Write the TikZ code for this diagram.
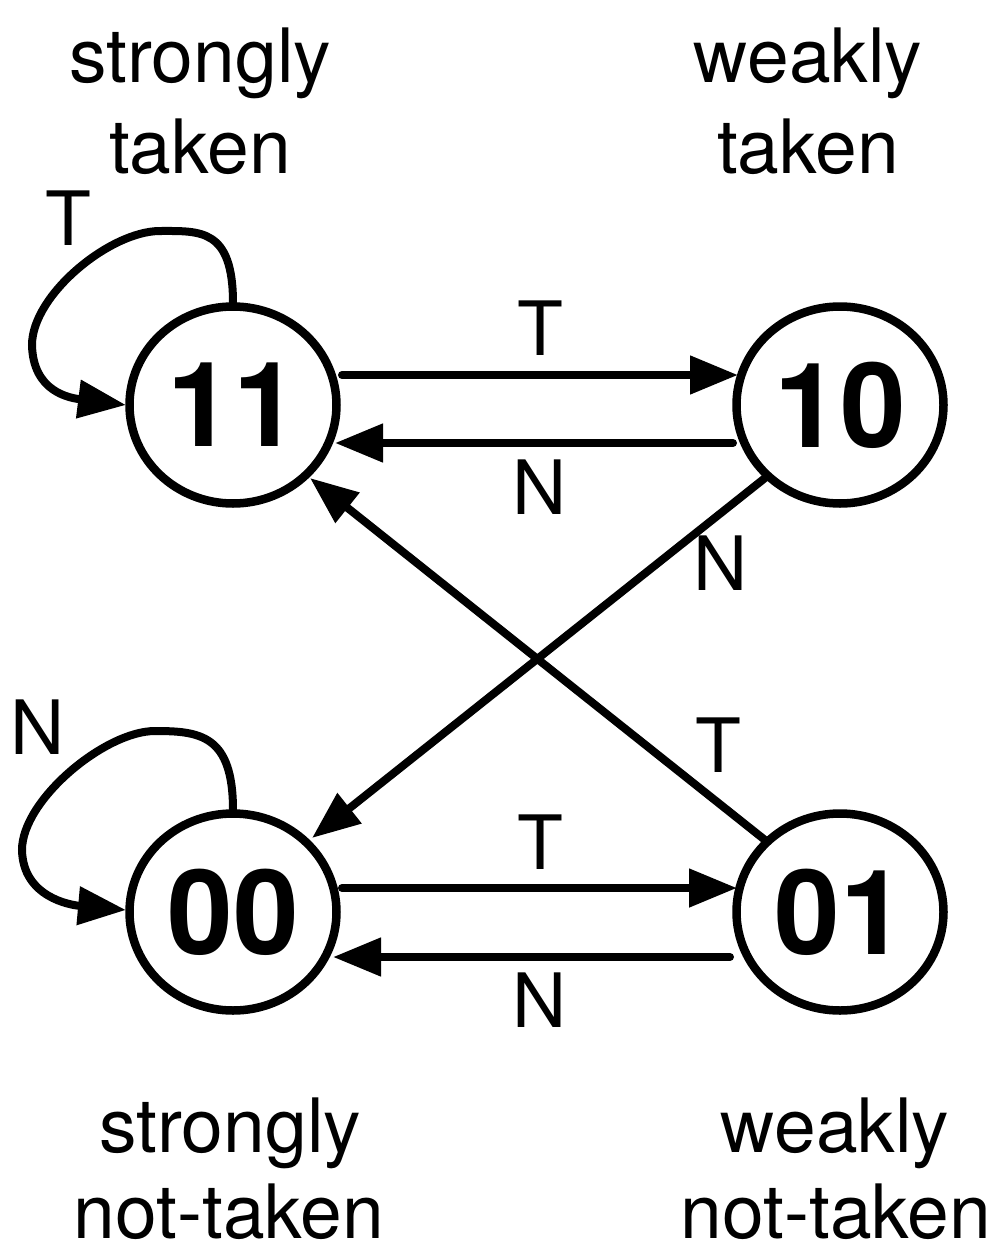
\documentclass[tikz,border=0pt]{standalone}
\usepackage{fontspec}
\setmainfont{TeX Gyre Heros}
\usetikzlibrary{arrows.meta,shapes.geometric}
\begin{document}
\begin{tikzpicture}[x=1pt,y=-1pt,
  state/.style={ellipse, draw, line width=8.5pt, minimum width=207pt, minimum height=197pt, inner sep=0pt,
    font=\fontsize{118}{118}\selectfont\bfseries},
  lbl/.style={font=\fontsize{75}{75}\selectfont, inner sep=0pt, anchor=base},
  tr/.style={font=\fontsize{75}{75}\selectfont, inner sep=0pt},
  arr/.style={-{Triangle[length=48pt,width=37pt]}, line width=8pt, line cap=round}]
\useasboundingbox (0,0) rectangle (1000,1258);

\node[state] (s11) at (233,405) {11};
\node[state] (s10) at (840,405) {10};
\node[state] (s00) at (233,912) {00};
\node[state] (s01) at (840,912) {01};

% headings
\node[lbl] (h1a) at (200,82) {strongly};
\node[lbl] (h1b) at (200,173) {taken};
\node[lbl] (h2a) at (808,82) {weakly};
\node[lbl] (h2b) at (808,173) {taken};
\node[lbl] (h3a) at (230,1152) {strongly};
\node[lbl] (h3b) at (229,1238) {not-taken};
\node[lbl] (h4a) at (835,1152) {weakly};
\node[lbl] (h4b) at (836,1238) {not-taken};

% horizontal transitions
\draw[arr] ([shift={(109,-30)}]s11.center) -- ([shift={(-102,-30)}]s10.center);
\draw[arr] ([shift={(-107,38)}]s10.center) -- ([shift={(102,38)}]s11.center);
\draw[arr] ([shift={(109,-24)}]s00.center) -- ([shift={(-103,-24)}]s01.center);
\draw[arr] ([shift={(-110,45)}]s01.center) -- ([shift={(100,45)}]s00.center);

% diagonals
\draw[arr] ([shift={(-75,73)}]s10.center) -- ([shift={(79,-74)}]s00.center);
\draw[arr] ([shift={(-75,-72)}]s01.center) -- ([shift={(77,73)}]s11.center);

% self loops
\draw[arr] ([shift={(0,-102)}]s11.center) .. controls (233,228) and (200,231) .. (160,231)
   .. controls (110,231) and (32,295) .. (32,345)
   .. controls (33,392) and (70,398) .. ([shift={(-107,0)}]s11.center);
\draw[arr] ([shift={(0,-102)}]s00.center) .. controls (233,735) and (200,731) .. (155,731)
   .. controls (105,731) and (22,800) .. (22,850)
   .. controls (23,897) and (70,905) .. ([shift={(-107,-2)}]s00.center);

% labels
\node[tr] (t1) at (540,328) {T};
\node[tr] (n1) at (540,487) {N};
\node[tr] (t2) at (540,842) {T};
\node[tr] (n2) at (540,1000) {N};
\node[tr] (n3) at (721,563) {N};
\node[tr] (t3) at (718,745) {T};
\node[tr] (t4) at (68,218) {T};
\node[tr] (n4) at (38,727) {N};
\end{tikzpicture}
\end{document}
